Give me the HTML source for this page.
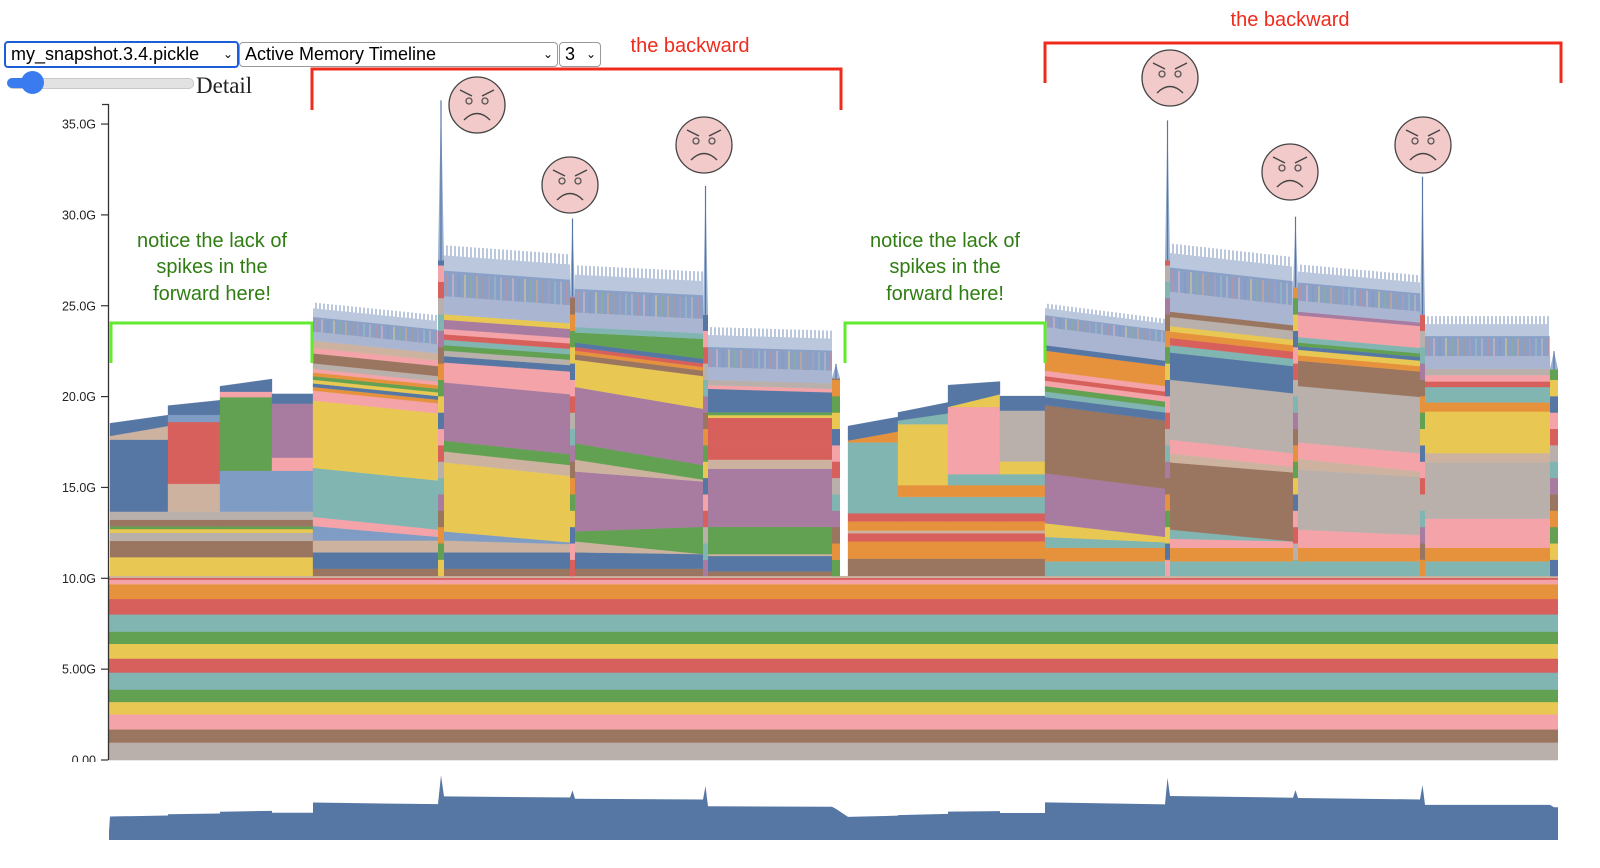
<!DOCTYPE html>
<html><head><meta charset="utf-8">
<style>
body{margin:0;background:#fff;width:1600px;height:868px;overflow:hidden;font-family:"Liberation Sans",sans-serif;}
svg{position:absolute;left:0;top:0}
.sel{position:absolute;top:42px;height:23px;border:1px solid #999;border-radius:4px;background:#fff;font-size:18px;line-height:23px;padding-left:5px;box-sizing:content-box;color:#000}
.sel span.car{position:absolute;right:4px;top:0;font-size:12px}
</style></head><body>
<svg id="chart" width="1600" height="868"></svg>
<div class="sel" style="left:4px;width:226px;border:2px solid #1b5fd8;top:41px">my_snapshot.3.4.pickle<span class="car">&#8964;</span></div>
<div class="sel" style="left:239px;width:312px">Active Memory Timeline<span class="car">&#8964;</span></div>
<div class="sel" style="left:559px;width:35px">3<span class="car">&#8964;</span></div>
<div style="position:absolute;left:8px;top:78px;width:184px;height:9px;border-radius:5px;background:#e2e2e2;border:1px solid #c8c8c8"></div>
<div style="position:absolute;left:7px;top:78px;width:30px;height:10px;border-radius:5px;background:#3a7cf0"></div>
<div style="position:absolute;left:21px;top:71px;width:23px;height:23px;border-radius:50%;background:#3a7cf0"></div>
<div style="position:absolute;left:196px;top:73px;font-family:'Liberation Serif',serif;font-size:23px;color:#222">Detail</div>
<script>
const C={B:'#5677a4',O:'#e6923c',R:'#d75f5c',T:'#80b5b2',G:'#62a052',Y:'#e8c853',P:'#a87ba0',K:'#f4a3a8',N:'#9a7660',E:'#b9b0ab',H:'#cdb39f',L:'#7f9cc4',M:'#aab5d2'};
// y-axis ticks (GB)
const yTicks=[0,5,10,15,20,25,30,35];
const yTickLabels=['0.00','5.00G','10.0G','15.0G','20.0G','25.0G','30.0G','35.0G'];
// base allocations (bottom to top), GB
const baseColors=['E','N','K','Y','G','T','R','Y','G','T','R','O','K','R','H'];
const baseSizes=[0.97,0.72,0.83,0.68,0.68,0.94,0.77,0.81,0.67,0.95,0.85,0.81,0.25,0.1,0.1];
// segments: time ranges
const segT0=[2,60,112,164,205,336,467,600,740,790,840,892,937,1062,1190,1317];
const segT1=[60,112,164,205,330,462,595,724,790,840,892,937,1057,1185,1312,1442];
const segHair=[0,0,0,0,1.6,2.8,2.6,2.2,0,0,0,0,1.3,2.65,2.0,2.2];
const f1=[['Y',1.03],['N',.9],['E',.45],['Y',.2],['G',.15],['N',.36],['E',.45]];
const f2=[['N',.95],['O',.95],['R',.45],['H',.15],['O',.5],['R',.45],['T',.9]];
const b2=[['T',.8],['O',.75]];
const segBands=[
 f1.concat([['B',3.96],['H',.2,.75],['B',.7,.6]]),
 f1.concat([['H',1.53],['R',3.4],['L',.4],['B',.5,.8]]),
 f1.concat([['L',2.25],['G',4.05],['K',.3],['B',.3,.7]]),
 f1.concat([['L',2.25],['K',.72],['P',2.97],['B',.54]]),
 [['N',.4],['B',.9],['H',.65],['L',.8,.2],['K',.5,.4],['T',2.7],['Y',3.7],['K',.55],['O',.2],['B',.2],['Y',.2],['G',.2],['O',.2],['K',.2],['E',.3],['N',.55],['K',.3],['H',.4],['M',.5]],
 [['N',.4],['B',.9],['H',.65,.45],['L',.5,.1],['Y',3.8,3.65],['H',.6],['G',.6],['P',3.2,3.3],['K',1.1,1.25],['B',.35],['E',.3],['G',.3],['T',.3],['R',.3],['K',.3],['P',.5],['Y',.3],['M',1.0]],
 [['N',.4],['B',.9,.8],['H',.6,0],['G',.55,1.5],['P',3.3,2.5],['H',.65,.1],['G',.9,.8],['P',3.1],['Y',1.5,1.8],['N',.3],['O',.2],['R',.2],['B',.25],['G',.55,1.1],['T',.3],['M',.8]],
 [['N',.25],['B',.85],['H',.1],['G',1.5],['P',3.2],['H',.5],['R',.9],['R',1.4],['Y',.15],['G',.15],['B',1.3,1.1],['K',.2],['E',.3],['M',.7]],
 f2.concat([['T',3.0],['O',.1,.6],['B',.8]]),
 f2.concat([['O',.65],['Y',3.35],['T',.2,.6],['B',.45,.6]]),
 f2.concat([['O',.65],['T',.6],['K',3.7],['Y',0,.7],['B',1.2,.7]]),
 f2.concat([['O',.65],['T',.6],['Y',.7],['E',2.8],['B',.8]]),
 b2.concat([['T',.6,.3],['Y',.75,.3],['P',2.75,2.65],['N',3.75],['B',.45],['T',.3],['G',.3],['K',.3],['R',.25],['K',.3],['O',1.1],['B',.3],['M',1.0]]),
 b2.concat([['K',.5,.35],['T',.5,0],['N',3.7,3.8],['H',.5,.3],['K',.75],['E',3.3],['B',1.5],['T',.4],['R',.4],['O',.35],['Y',.3],['E',.5],['N',.3],['M',1.1]]),
 b2.concat([['K',1.0,.7],['E',3.3,3.2],['H',.6,.3],['K',.9,1.0],['E',3.1],['N',1.4],['O',.3],['Y',.3],['B',.2],['G',.2],['T',.3],['K',1.2],['P',.2],['M',.6]]),
 b2.concat([['K',1.6],['E',3.1],['H',.5],['Y',.9],['Y',1.4],['O',.5],['T',.85],['R',.3],['K',.35],['E',.35],['M',.7]])
];
// spike columns at phase boundaries
const colT=[330,462,595,724,1057,1185,1312,1442];
const colW=[6,5,5,8,5,5,5,8];
const colSolid=[27.5,25.5,24.5,21,27.5,26,24.5,21.5];
const colPeak=[36.3,29.8,31.6,21.8,35.2,29.9,32.1,22.5];
const colorCycle=['Y','R','P','G','K','T','O','B','E','N'];

const NS='http://www.w3.org/2000/svg';
const svg=document.getElementById('chart');
function yS(g){return 760-g*18.17;}
function xS(t){return 108+t;}
function mY(g){return 840-Math.max(0,g-8.4)*2.32;}
function el(tag,attrs,parent){const e=document.createElementNS(NS,tag);for(const k in attrs)e.setAttribute(k,attrs[k]);(parent||svg).appendChild(e);return e;}

// base bands
let cum=0;
const gBase=el('g',{});


baseSizes.forEach((s,i)=>{
  const r=el('rect',{x:xS(0),y:yS(cum+s),width:1450,height:s*18.17+0.3,fill:C[baseColors[i]]},gBase);
  
  
  cum+=s;
});
const baseTop=cum;
const segTops=[];
// segments
segBands.forEach((bands,si)=>{
  const g=el('g',{});
  
  
  let L=baseTop,R=baseTop;const x0=xS(segT0[si]),x1=xS(segT1[si]);
  bands.forEach(b=>{
    const l=b[1],r=(b.length>2?b[2]:b[1]);
    const p=el('polygon',{points:`${x0},${yS(L)} ${x1},${yS(R)} ${x1},${yS(R+r)} ${x0},${yS(L+l)}`,fill:C[b[0]],stroke:C[b[0]],'stroke-width':0.3},g);
    
    
    L+=l;R+=r;
  });
  segTops.push([L,R]);
  const h=segHair[si];
  if(h>0){
    const pale=el('polygon',{points:`${x0},${yS(L)} ${x1},${yS(R)} ${x1},${yS(R+h*0.5)} ${x0},${yS(L+h*0.5)}`,fill:'#97a9cf',opacity:0.75},g);
    
    
    let i=0;
    for(let t=segT0[si]+1;t<segT1[si];t+=2,i++){
      const f=(t-segT0[si])/(segT1[si]-segT0[si]);const top=L+(R-L)*f;
      const hh=h*(i%2?1:0.8);
      const ln=el('line',{x1:xS(t),x2:xS(t),y1:yS(top),y2:yS(top+hh),stroke:'#5274a8','stroke-width':1,opacity:0.8},g);
      
      
      if(i%3==1){const c2=el('line',{x1:xS(t),x2:xS(t),y1:yS(top),y2:yS(top+h*0.45),stroke:C[colorCycle[i%10]],'stroke-width':1,opacity:0.7},g);
        
        }
    }
  }
});
// spike columns
colT.forEach((t,ci)=>{
  const g=el('g',{});
  
  
  let v=baseTop,k=ci;
  while(v<colSolid[ci]){const s=Math.min(0.9,colSolid[ci]-v);
    el('rect',{x:xS(t),y:yS(v+s),width:colW[ci],height:s*18.17+0.3,fill:C[colorCycle[k%10]]},g);v+=s;k+=3;}
  el('polygon',{points:`${xS(t)},${yS(colSolid[ci])} ${xS(t)+colW[ci]/2},${yS(colPeak[ci])} ${xS(t)+colW[ci]},${yS(colSolid[ci])}`,fill:'#6d8dbd',opacity:0.7},g);
  el('line',{x1:xS(t)+colW[ci]/2,x2:xS(t)+colW[ci]/2,y1:yS(colSolid[ci]),y2:yS(colPeak[ci]),stroke:'#5677a4','stroke-width':1.2},g);
});
// axis
const ax=el('g',{});


el('path',{d:'M102,104.5H108.5V760',fill:'none',stroke:'#333','stroke-width':1.3},ax);
yTicks.forEach((v,i)=>{
  el('line',{x1:101,x2:108,y1:yS(v),y2:yS(v),stroke:'#333','stroke-width':1.2},ax);
  const tx=el('text',{x:96,y:yS(v)+4.5,'text-anchor':'end','font-size':12.5,fill:'#222','font-family':'Liberation Sans, sans-serif'},ax);
  tx.textContent=yTickLabels[i];
  
  
});
el('rect',{x:30,y:762,width:80,height:10,fill:'#fff'},ax);
// minimap
const pts=[];
segT0.forEach((t0,si)=>{const h=segHair[si]*0.6;pts.push([t0,segTops[si][0]+h]);pts.push([segT1[si],segTops[si][1]+h]);});
colT.forEach((t,ci)=>{pts.push([t+colW[ci]/2,colPeak[ci]]);});
pts.sort((a,b)=>a[0]-b[0]);
let d=`M${xS(1)},840 L${xS(1)},${mY(baseTop+2)}`;
pts.forEach(p=>{d+=` L${xS(p[0])},${mY(p[1])}`;});
d+=` L${xS(1450)},${mY(pts[pts.length-1][1])} L${xS(1450)},840 Z`;
const mm=el('path',{d:d,fill:'#5677a4'});


// annotations
function bracket(x0,x1,y,drop,col,w,name){const p=el('path',{d:`M${x0},${y+drop}V${y}H${x1}V${y+drop}`,fill:'none',stroke:col,'stroke-width':w});
  }
bracket(312,841,69,41,'#ef2b1c',3,'backward-bracket');
bracket(1045,1561,43,40,'#ef2b1c',3,'backward-bracket');
bracket(111,312,323,40,'#62ea2f',3,'forward-bracket');
bracket(845,1045,323,40,'#62ea2f',3,'forward-bracket');
function txt(x,y,s,col,name){const t=el('text',{x:x,y:y,'text-anchor':'middle','font-size':20,fill:col,'font-family':'Liberation Sans, sans-serif'});t.textContent=s;
  }
txt(690,52,'the backward','#ef2b1c','backward-label');
txt(1290,26,'the backward','#ef2b1c','backward-label');
[[212],[945]].forEach(([cx])=>{
  txt(cx,247,'notice the lack of','#2f7d12','forward-note');
  txt(cx,273,'spikes in the','#2f7d12','forward-note');
  txt(cx,300,'forward here!','#2f7d12','forward-note');
});
function face(cx,cy){const g=el('g',{});
  
  
  el('circle',{cx:cx,cy:cy,r:28,fill:'#f3caca',stroke:'#444','stroke-width':1.3},g);
  el('circle',{cx:cx-8,cy:cy-4,r:3,fill:'none',stroke:'#555','stroke-width':1.3},g);
  el('circle',{cx:cx+8,cy:cy-4,r:3,fill:'none',stroke:'#555','stroke-width':1.3},g);
  el('path',{d:`M${cx-17},${cy-15}L${cx-5},${cy-9}M${cx+17},${cy-15}L${cx+5},${cy-9}M${cx-13},${cy+15}Q${cx},${cy+2} ${cx+13},${cy+15}`,fill:'none',stroke:'#444','stroke-width':1.4},g);
}
[[477,105],[570,185],[704,145],[1170,78],[1290,172],[1423,145]].forEach(p=>face(p[0],p[1]));
</script>
</body></html>
